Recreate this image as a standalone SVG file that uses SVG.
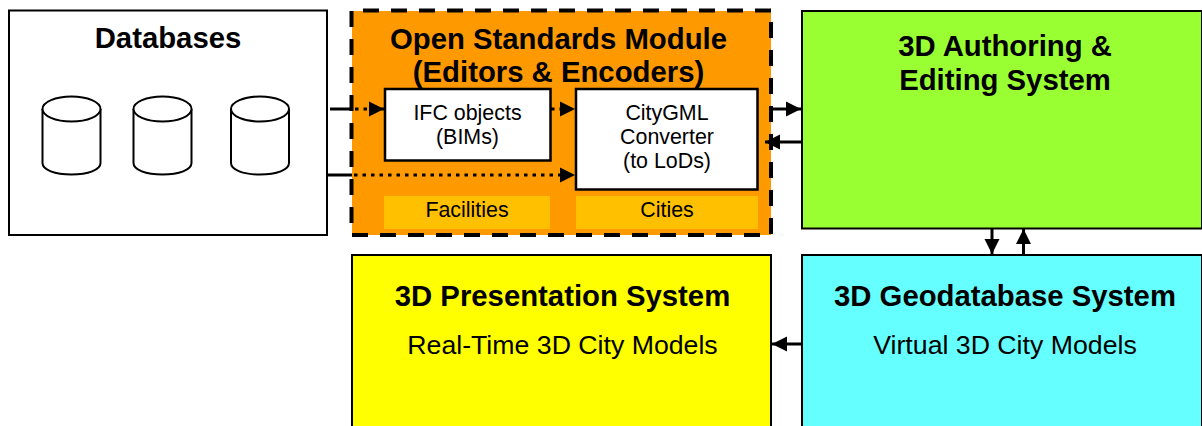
<svg xmlns="http://www.w3.org/2000/svg" width="1202" height="426" viewBox="0 0 1202 426">
<style>
text{font-family:"Liberation Sans",Arial,sans-serif;fill:#000;text-anchor:middle}
.t{font-weight:bold;font-size:29.300px}
.s{font-size:26.700px}
.m{font-size:21.400px}
.box{stroke:#000;stroke-width:2}
.inner{fill:#fff;stroke:#000;stroke-width:2.500}
.tag{fill:#ffc000}
.cyl{fill:#fff;stroke:#000;stroke-width:2}
.c{stroke:#000;stroke-width:3;fill:none}
.d{stroke:#000;stroke-width:3;fill:none;stroke-dasharray:3.500 5}
.o{stroke:#000;stroke-width:4;fill:none;stroke-dasharray:16 12}
</style>
<defs>
<marker id="a" markerUnits="userSpaceOnUse" markerWidth="16" markerHeight="16" refX="15" refY="8" orient="auto"><path d="M0 0.500L15 8L0 15.500Z" fill="#000"/></marker>
</defs>
<g id="databases">
<rect class="box" x="9" y="10.500" width="318" height="224.500" fill="#fff"/>
<text class="t" x="168" y="47.500">Databases</text>
<path class="cyl" d="M42.500 109V163C42.500 170 55 174.500 71.500 174.500S100.500 170 100.500 163V109"/>
<ellipse class="cyl" cx="71.500" cy="109" rx="29" ry="12.500"/>
<path class="cyl" d="M133.500 109V163C133.500 170 146 174.500 162.500 174.500S191.500 170 191.500 163V109"/>
<ellipse class="cyl" cx="162.500" cy="109" rx="29" ry="12.500"/>
<path class="cyl" d="M231 109V163C231 170 243.500 174.500 260 174.500S289 170 289 163V109"/>
<ellipse class="cyl" cx="260" cy="109" rx="29" ry="12.500"/>
</g>
<g id="open-standards">
<rect x="352" y="11" width="419" height="224" fill="#ff9900"/>
<path class="o" stroke-dashoffset="17" d="M352 10.500H771"/>
<path class="o" stroke-dashoffset="17" d="M771 11V235"/>
<path class="o" d="M352 235H771"/>
<path class="o" d="M351.500 11V235"/>
<text class="t" x="558.500" y="48.500">Open Standards Module</text>
<text class="t" x="558.500" y="82">(Editors &amp; Encoders)</text>
</g>
<g id="ifc-objects">
<rect class="inner" x="385" y="89" width="165.500" height="71.500"/>
<text class="m" x="467.500" y="119.500">IFC objects</text>
<text class="m" x="467.500" y="144">(BIMs)</text>
</g>
<g id="citygml">
<rect class="inner" x="576" y="89" width="181.500" height="100.500"/>
<text class="m" x="667" y="119.500">CityGML</text>
<text class="m" x="667" y="144">Converter</text>
<text class="m" x="667" y="168">(to LoDs)</text>
</g>
<g id="facilities">
<rect class="tag" x="384" y="196" width="166" height="33"/>
<text class="m" x="467" y="217">Facilities</text>
</g>
<g id="cities">
<rect class="tag" x="576" y="196" width="182" height="33"/>
<text class="m" x="667" y="217">Cities</text>
</g>
<g id="authoring">
<rect class="box" x="802" y="11" width="400" height="217.500" fill="#99ff33" stroke="#444"/>
<text class="t" x="1005" y="56">3D Authoring &amp;</text>
<text class="t" x="1005" y="90">Editing System</text>
</g>
<g id="presentation">
<rect class="box" x="352" y="255" width="419" height="175" fill="#ffff00"/>
<text class="t" x="562.500" y="306">3D Presentation System</text>
<text class="s" x="562.500" y="353.500">Real-Time 3D City Models</text>
</g>
<g id="geodatabase">
<rect class="box" x="802" y="255" width="400" height="175" fill="#66ffff"/>
<text class="t" x="1005" y="306">3D Geodatabase System</text>
<text class="s" x="1005" y="353.500">Virtual 3D City Models</text>
</g>
<g id="connectors">
<path class="c" d="M330 109H352"/>
<path class="d" d="M355 109H384" marker-end="url(#a)"/>
<path class="d" d="M551 109H575" marker-end="url(#a)"/>
<path class="c" d="M327 175H352"/>
<path class="d" d="M354 175H575" marker-end="url(#a)"/>
<path class="c" d="M771 109H801" marker-end="url(#a)"/>
<path class="c" d="M802 142H765" marker-end="url(#a)"/>
<path class="c" d="M992 229V254" marker-end="url(#a)"/>
<path class="c" d="M1023.500 254V229" marker-end="url(#a)"/>
<path class="c" d="M802 344H772" marker-end="url(#a)"/>
</g>
</svg>
